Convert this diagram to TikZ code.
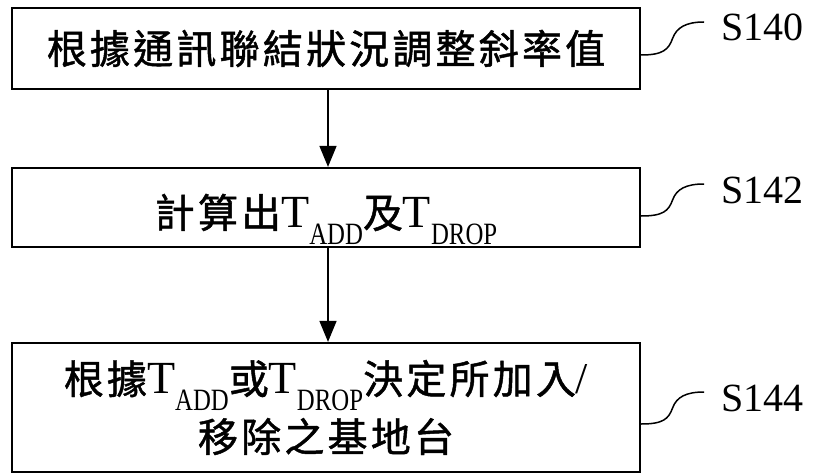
\documentclass[tikz,border=0pt]{standalone}
\usepackage{fontspec}
\usepackage{graphicx}
\setmainfont{Liberation Serif}
\newfontfamily\cjk[LetterSpace=8,FakeBold=1.2]{Noto Sans CJK TC}
\usetikzlibrary{calc,arrows.meta}
\newcommand\zh[1]{{\cjk\fontsize{40}{58}\selectfont #1}}
\newcommand\Tsub[1]{{\fontsize{46}{46}\selectfont T}\raisebox{-17pt}[0pt][0pt]{\scalebox{0.8}[1]{\fontsize{31}{31}\selectfont #1}}}
\newcommand\slashch{{\fontsize{44}{44}\selectfont /}}
\newcommand\leadto[2]{\draw[lead] (#1) .. controls +(22,0) and +(-4,11) .. ($(#1)!.5!(#2)$) .. controls +(4,-11) and +(-18,0) .. (#2);}
\begin{document}
\begin{tikzpicture}[x=1pt,y=-1pt]
\tikzset{
  stepbox/.style={draw, line width=2.2pt, minimum width=628pt, inner sep=0pt, align=center, font=\fontsize{40}{58}\selectfont},
  flow/.style={line width=1.5pt, -{Triangle[length=21pt,width=17pt]}},
  lead/.style={line width=1.5pt},
  steplabel/.style={anchor=base west, inner sep=0pt, font=\fontsize{40}{40}\selectfont}
}
\useasboundingbox (0,0) rectangle (818,473);
\node[stepbox, minimum height=81pt] (b1) at (326,48.5) {\zh{根據通訊聯結狀況調整斜率值}};
\node[stepbox, minimum height=79pt] (b2) at (326,207.5) {\raisebox{-5pt}[\height][\depth]{\zh{計算出}\Tsub{ADD}\zh{及}\Tsub{DROP}}};
\node[stepbox, minimum height=129pt] (b3) at (326,407.5) {\zh{根據}\Tsub{ADD}\zh{或}\Tsub{DROP}\zh{決定所加入}\slashch\\\zh{移除之基地台}};
\draw[flow] ([xshift=2pt]b1.south) -- ([xshift=2pt]b2.north);
\draw[flow] ([xshift=2pt]b2.south) -- ([xshift=2pt]b3.north);
\node[steplabel] (l1) at (721,41) {S140};
\node[steplabel] (l2) at (721,203) {S142};
\node[steplabel] (l3) at (721,411) {S144};
\coordinate (c1) at ($(b1.east)+(0,6.5)$);
\coordinate (c2) at ($(b2.east)+(0,8.5)$);
\coordinate (c3) at ($(b3.east)+(0,16.5)$);
\coordinate (e1) at ($(l1.base west)+(-17,-19)$);
\coordinate (e2) at ($(l2.base west)+(-17,-19)$);
\coordinate (e3) at ($(l3.base west)+(-17,-19)$);
\leadto{c1}{e1}
\leadto{c2}{e2}
\leadto{c3}{e3}
\end{tikzpicture}
\end{document}
